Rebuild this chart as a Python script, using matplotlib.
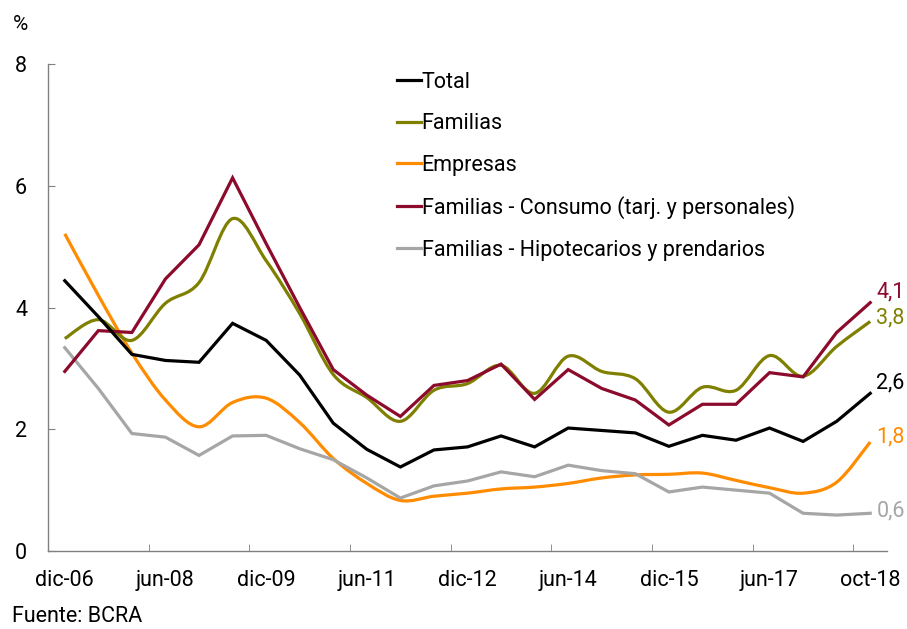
import matplotlib
matplotlib.use("Agg")
import matplotlib.pyplot as plt
import numpy as np
from matplotlib.path import Path
from matplotlib.patches import PathPatch
from matplotlib.lines import Line2D

plt.rcParams['font.family'] = ['Roboto', 'DejaVu Sans']

# Semi-annual categories (dic-06 ... oct-18), labels every 3 categories
tick_labels = ["dic-06", "jun-08", "dic-09", "jun-11", "dic-12",
               "jun-14", "dic-15", "jun-17", "oct-18"]

total = [4.44, 3.85, 3.23, 3.13, 3.10, 3.74, 3.46, 2.89, 2.10, 1.67, 1.38, 1.66, 1.71,
         1.89, 1.71, 2.02, 1.98, 1.94, 1.72, 1.90, 1.82, 2.02, 1.80, 2.13, 2.59]
familias = [3.49, 3.80, 3.46, 4.07, 4.41, 5.46, 4.77, 3.90, 2.90, 2.52, 2.13, 2.64, 2.75,
            3.05, 2.59, 3.20, 2.95, 2.83, 2.28, 2.69, 2.64, 3.21, 2.87, 3.36, 3.77]
empresas = [5.21, 4.20, 3.25, 2.48, 2.04, 2.44, 2.51, 2.11, 1.52, 1.11, 0.83, 0.90, 0.95,
            1.02, 1.05, 1.11, 1.20, 1.25, 1.26, 1.28, 1.16, 1.04, 0.95, 1.13, 1.79]
consumo = [2.95, 3.62, 3.59, 4.47, 5.03, 6.13, 5.05, 4.00, 2.98, 2.56, 2.21, 2.72, 2.80,
           3.07, 2.49, 2.98, 2.67, 2.48, 2.07, 2.41, 2.41, 2.93, 2.86, 3.59, 4.08]
hipotecarios = [3.34, 2.67, 1.93, 1.87, 1.57, 1.89, 1.90, 1.68, 1.50, 1.20, 0.87, 1.07, 1.15,
                1.30, 1.22, 1.41, 1.32, 1.27, 0.97, 1.05, 1.00, 0.95, 0.62, 0.59, 0.62]

end_labels = ["2,6", "3,8", "1,8", "4,1", "0,6"]

names = ["Total", "Familias", "Empresas",
         "Familias - Consumo (tarj. y personales)",
         "Familias - Hipotecarios y prendarios"]
colors = ["#000000", "#7F8000", "#FF8C00", "#8C0A2C", "#A6A6A6"]
series = [total, familias, empresas, consumo, hipotecarios]
smooth = [False, True, True, False, False]

FS = 15.5
fig = plt.figure(figsize=(9.07, 6.29), dpi=100)
ax = fig.add_axes([48/907, 1-551/629, (887-48)/907, (551-64)/629])

n = len(total)
x = np.arange(n)
lw = 2.3


def smooth_path(xs, ys):
    pts = np.column_stack([xs, ys]).astype(float)
    verts = [pts[0]]
    codes = [Path.MOVETO]
    for i in range(len(pts) - 1):
        p0 = pts[i - 1] if i > 0 else pts[i]
        p1 = pts[i]
        p2 = pts[i + 1]
        p3 = pts[i + 2] if i + 2 < len(pts) else pts[i + 1]
        c1 = p1 + (p2 - p0) / 6.0
        c2 = p2 - (p3 - p1) / 6.0
        verts += [c1, c2, p2]
        codes += [Path.CURVE4] * 3
    return Path(verts, codes)


# draw order: gray, orange, olive, red, black on top
order = [4, 2, 1, 3, 0]
for i in order:
    ys = series[i]
    if smooth[i]:
        patch = PathPatch(smooth_path(x, ys), facecolor="none", edgecolor=colors[i],
                          lw=lw, capstyle="butt", joinstyle="round")
        ax.add_patch(patch)
    else:
        ax.plot(x, ys, color=colors[i], lw=lw, solid_joinstyle="miter")

# end labels (offsets in points above the last point)
yoff = [7.5, 2.5, 3.5, 8.0, 1.5]
for i in range(5):
    ax.annotate(end_labels[i], xy=(x[-1], series[i][-1]), xytext=(4.5, yoff[i]),
                textcoords="offset points", color=colors[i], fontsize=FS,
                va="center", ha="left", annotation_clip=False)

ax.set_xlim(-0.5, n - 0.5)
ax.set_ylim(0, 8)
ax.set_yticks([0, 2, 4, 6, 8])
ax.set_yticklabels(["0", "2", "4", "6", "8"])
ax.set_xticks(np.arange(0, n, 3))
ax.set_xticklabels(tick_labels)
ax.set_xticks(np.arange(2.5, n - 1, 3), minor=True)

for s in ["top", "right"]:
    ax.spines[s].set_visible(False)
for s in ["left", "bottom"]:
    ax.spines[s].set_color("#808080")
    ax.spines[s].set_linewidth(1.0)

ax.tick_params(axis="x", which="major", length=0, pad=14, labelsize=FS, colors="black")
ax.tick_params(axis="x", which="minor", direction="in", length=5, color="#808080")
ax.tick_params(axis="y", direction="in", length=5, color="#808080", pad=15, labelsize=FS)

handles = [Line2D([0], [0], color=c, lw=lw) for c in colors]
leg = ax.legend(handles, names, loc="upper left", bbox_to_anchor=(0.398, 1.015),
                frameon=False, fontsize=FS, handlelength=1.1, handletextpad=0.05,
                labelspacing=0.95, borderaxespad=0.3)

fig.text(13/907, 1-25/629, "%", fontsize=15, ha="left", va="center")
fig.text(12/907, 1-617/629, "Fuente: BCRA", fontsize=FS, ha="left", va="center")

fig.savefig("out.png", dpi=100)
